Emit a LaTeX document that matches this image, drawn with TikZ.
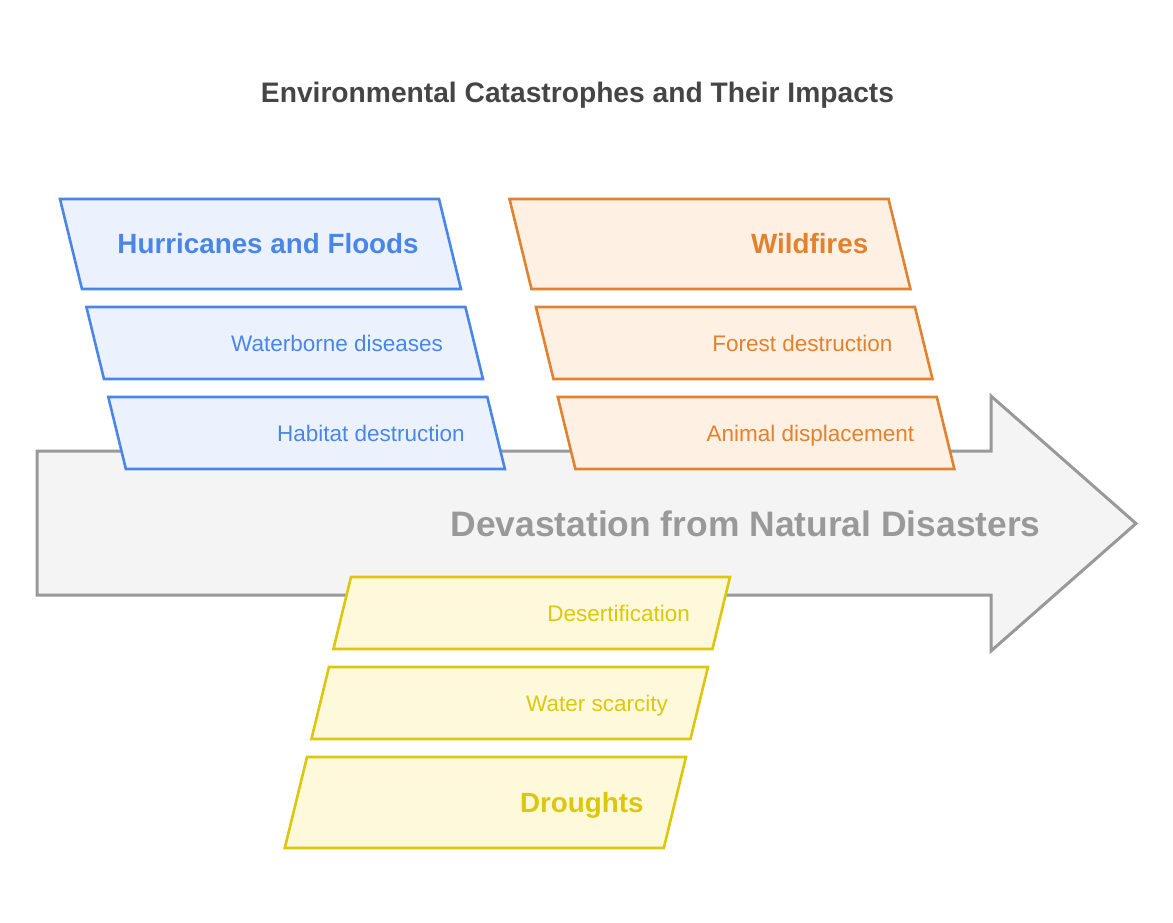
\documentclass[tikz,border=0pt]{standalone}
\usepackage{fontspec}
\setmainfont{Liberation Sans}
\usepackage{tikz}

\definecolor{hurline}{HTML}{4A86E8}
\definecolor{hurfill}{HTML}{EBF2FE}
\definecolor{fireline}{HTML}{E0822F}
\definecolor{firefill}{HTML}{FEF0E3}
\definecolor{dryline}{HTML}{DDC70C}
\definecolor{dryfill}{HTML}{FEF9DB}
\definecolor{spineline}{HTML}{999999}
\definecolor{spinefill}{HTML}{F4F4F4}
\definecolor{titlegray}{HTML}{454545}

% slanted box: name, top-left x, top y, height, slant, colour, style, text
\newcommand{\slantbox}[8]{%
  \draw[draw=#6line, fill=#6fill] (#2,#3) -- ++(379,0) -- ++({(#5)*(#4)},#4) -- ++(-379,0) -- cycle;
  \node[#7, text=#6line] (#1) at ({#2+379+(#5)*(#4)/2-30},{#3+(#4)/2}) {#8};
}

\begin{document}
\begin{tikzpicture}[x=1pt, y=-1pt, line width=2.6pt,
    every node/.style={anchor=east, inner sep=0pt, text depth=0pt},
    head/.style={font=\bfseries\fontsize{27.8}{30}\selectfont, text height=19.9pt},
    impact/.style={font=\fontsize{22.5}{26}\selectfont, text height=16.1pt}]
    \useasboundingbox (0,0) rectangle (1173,923);

    % the spine
    \draw[draw=spineline, fill=spinefill, line width=3pt]
        (37,451) -- (991,451) -- (991,396) -- (1136,523.5) -- (991,651) -- (991,595) -- (37,595) -- cycle;
    \node[text=spineline, font=\bfseries\fontsize{35.4}{40}\selectfont, text height=25.3pt] (spine) at (1042,524)
        {Devastation from Natural Disasters};

    \node[anchor=center, text=titlegray, font=\bfseries\fontsize{28.2}{30}\selectfont, text height=20.2pt] (title) at (577.5,92)
        {Environmental Catastrophes and Their Impacts};

    % hurricanes and floods
    \slantbox{hurricanes}{60}{199}{90}{0.244}{hur}{head}{Hurricanes and Floods}
    \slantbox{waterborne}{86.4}{307}{72}{0.244}{hur}{impact}{Waterborne diseases}
    \slantbox{habitat}{108.3}{397}{72}{0.244}{hur}{impact}{Habitat destruction}

    % wildfires
    \slantbox{wildfires}{509.5}{199}{90}{0.244}{fire}{head}{Wildfires}
    \slantbox{forest}{535.9}{307}{72}{0.244}{fire}{impact}{Forest destruction}
    \slantbox{animal}{557.8}{397}{72}{0.244}{fire}{impact}{Animal displacement}

    % droughts
    \slantbox{desert}{351}{577}{72}{-0.244}{dry}{impact}{Desertification}
    \slantbox{scarcity}{329}{667}{72}{-0.244}{dry}{impact}{Water scarcity}
    \slantbox{droughts}{307}{757}{91}{-0.244}{dry}{head}{Droughts}
\end{tikzpicture}
\end{document}
